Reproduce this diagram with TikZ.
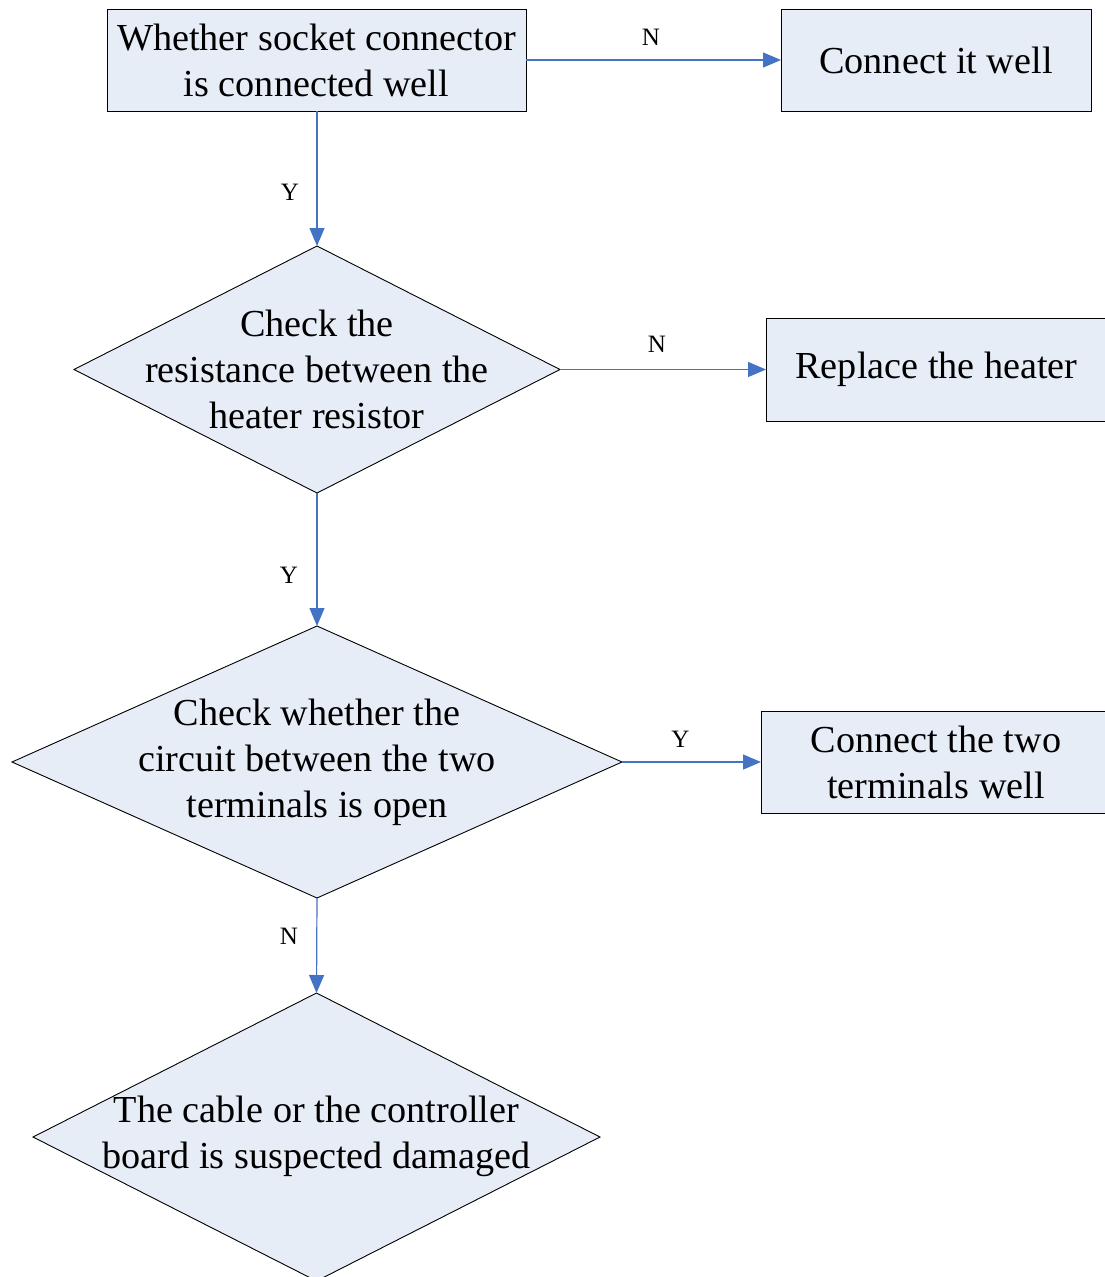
\documentclass[tikz,border=0pt]{standalone}
\usepackage{fontspec}
\setmainfont{Liberation Serif}
\usetikzlibrary{shapes.geometric,arrows.meta}
\definecolor{boxfill}{HTML}{E7EDF7}
\definecolor{linkblue}{HTML}{4472C4}
\begin{document}
\begin{tikzpicture}[x=1pt,y=-1pt,
  every node/.style={inner sep=0pt,outer sep=0pt},
  bigtext/.style={font=\fontsize{38.2}{46}\selectfont,align=center},
  boxnode/.style={draw=black,line width=0.9pt,fill=boxfill,rectangle,bigtext},
  dianode/.style={draw=black,line width=0.9pt,fill=boxfill,diamond},
  link/.style={draw=linkblue,line width=1.2pt,-{Triangle[length=18pt,width=15pt]}},
  lbl/.style={font=\fontsize{25}{30}\selectfont}]
\clip (0,0) rectangle (1105,1277);
\fill[white] (0,0) rectangle (1105,1277);

% boxes
\node[boxnode,minimum width=419pt,minimum height=102pt] (b1) at (316.5,60)
  {Whether socket connector\\is connected well};
\node[boxnode,minimum width=310pt,minimum height=102pt] (b2) at (936,60)
  {Connect it well};
\node[boxnode,minimum width=341pt,minimum height=103pt] (b3) at (936.5,369.5)
  {Replace the heater};
\node[boxnode,minimum width=350pt,minimum height=102pt] (b4) at (936,762)
  {Connect the two\\terminals well};

% diamonds
\node[dianode,minimum width=486pt,minimum height=247pt] (d1) at (317,369.5) {};
\node[bigtext] (t1) at (d1.center) {Check the\\resistance between the\\heater resistor};
\node[dianode,minimum width=610pt,minimum height=272pt] (d2) at (317,762) {};
\node[bigtext] (t2) at (d2.center) {Check whether the\\circuit between the two\\terminals is open};
\node[dianode,minimum width=567pt,minimum height=288pt] (d3) at (316.5,1137) {};
\node[bigtext] (t3) at (316.5,1136) {The cable or the controller\\board is suspected damaged};

% connectors
\draw[link] (b1.south -| d1.north) -- (d1.north) node[lbl,pos=0.6,xshift=-27pt] (y1) {Y};
\draw[link] (b1.east) -- (b2.west) node[lbl,pos=0.49,yshift=23pt] (n1) {N};
\draw[link] (d1.east) -- (b3.west) node[lbl,pos=0.47,yshift=25pt] (n2) {N};
\draw[link] (d1.south) -- (d2.north) node[lbl,pos=0.62,xshift=-28pt] (y2) {Y};
\draw[link] (d2.east) -- (b4.west) node[lbl,pos=0.42,yshift=23pt] (y3) {Y};
\draw[link] (d2.south) -- (d3.north) node[lbl,pos=0.4,xshift=-28pt] (n3) {N};
\end{tikzpicture}
\end{document}
